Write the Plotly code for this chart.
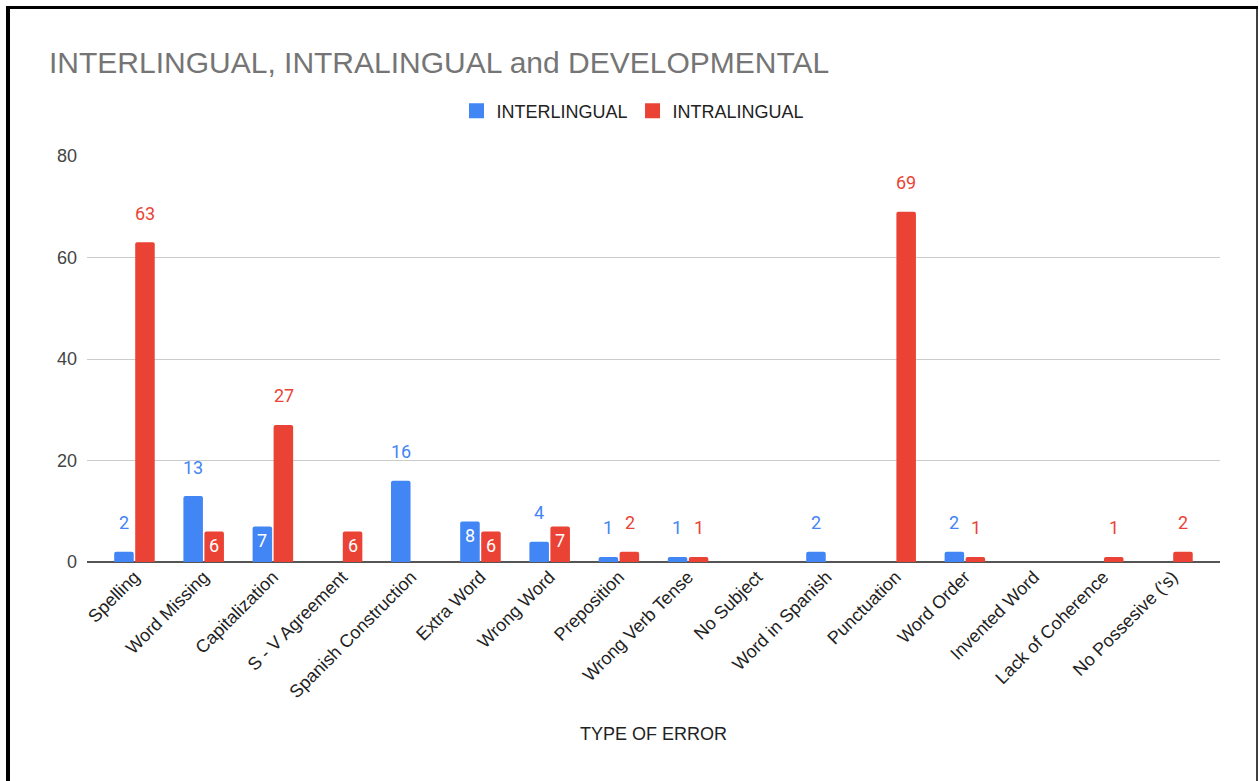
import plotly.graph_objects as go

categories = ["Spelling", "Word Missing", "Capitalization", "S - V Agreement",
              "Spanish Construction", "Extra Word", "Wrong Word", "Preposition",
              "Wrong Verb Tense", "No Subject", "Word in Spanish", "Punctuation",
              "Word Order", "Invented Word", "Lack of Coherence", "No Possesive ('s)"]
interlingual = [2, 13, 7, 0, 16, 8, 4, 1, 1, 0, 2, 0, 2, 0, 0, 0]
intralingual = [63, 6, 27, 6, 0, 6, 7, 2, 1, 0, 0, 69, 1, 0, 1, 2]
# labels drawn inside the bar (as in the original chart)
inter_inside = [False, False, True, False, False, True, False, False,
                False, False, False, False, False, False, False, False]
intra_inside = [False, True, False, True, False, True, True, False,
                False, False, False, False, False, False, False, False]

BLUE = "#4285F4"
RED = "#EA4335"
W, H = 1259, 781
L, R, T, B = 87, 1220, 156, 562
FONT = "Liberation Sans, Arial, sans-serif"

fig = go.Figure()
fig.add_trace(go.Bar(name="INTERLINGUAL", x=categories, y=interlingual,
                     marker=dict(color=BLUE, line=dict(width=0)), showlegend=False))
fig.add_trace(go.Bar(name="INTRALINGUAL", x=categories, y=intralingual,
                     marker=dict(color=RED, line=dict(width=0)), showlegend=False))
# legend entries with larger square swatches
for name, col in [("INTERLINGUAL", BLUE), ("INTRALINGUAL", RED)]:
    fig.add_trace(go.Scatter(name=name, x=[None], y=[None], mode="markers",
                             marker=dict(symbol="square", size=15, color=col),
                             showlegend=True))

annotations = []
for vals, inside, col, shift in [(interlingual, inter_inside, BLUE, -10.7),
                                 (intralingual, intra_inside, RED, 10.7)]:
    for c, v, ins in zip(categories, vals, inside):
        if not v:
            continue
        annotations.append(dict(
            x=c, y=v, xref="x", yref="y", text=str(v), showarrow=False,
            xshift=shift, yshift=(-14 if ins else 29), yanchor="middle",
            font=dict(family="Roboto", size=18, color=("white" if ins else col))))

# outer border frame
def px2paper_x(px):
    return (px - L) / (R - L)

def px2paper_y(py):
    return (B - py) / (B - T)

fig.add_shape(type="line", xref="paper", yref="paper",
              x0=px2paper_x(8), x1=px2paper_x(8), y0=px2paper_y(7), y1=px2paper_y(800),
              line=dict(color="black", width=4))
fig.add_shape(type="line", xref="paper", yref="paper",
              x0=px2paper_x(6), x1=px2paper_x(1258), y0=px2paper_y(7.5), y1=px2paper_y(7.5),
              line=dict(color="black", width=3))
fig.add_shape(type="line", xref="paper", yref="paper",
              x0=px2paper_x(1257), x1=px2paper_x(1257), y0=px2paper_y(6), y1=px2paper_y(800),
              line=dict(color="black", width=1.5))

fig.update_layout(
    width=W, height=H,
    margin=dict(l=L, r=W - R, t=T, b=H - B, pad=0),
    paper_bgcolor="white", plot_bgcolor="white",
    barmode="group", bargap=0.393, bargroupgap=0.07, barcornerradius=2,
    font=dict(family=FONT, size=17, color="#222222"),
    title=dict(text="INTERLINGUAL, INTRALINGUAL and DEVELOPMENTAL",
               x=49 / W, xref="container", xanchor="left",
               y=1 - 62 / H, yref="container", yanchor="middle",
               font=dict(family=FONT, size=30, color="#757575")),
    legend=dict(orientation="h", x=(633 - L) / (R - L), xanchor="center",
                y=(B - 111) / (B - T), yanchor="middle",
                font=dict(size=18, color="#222222"),
                traceorder="normal", itemwidth=30),
    showlegend=True,
    annotations=annotations,
    xaxis=dict(range=[-0.686, 15.687], tickangle=-45, showgrid=False,
               ticks="", showline=False, zeroline=False,
               tickfont=dict(size=18, color="#222222"),
               title=dict(text="TYPE OF ERROR", standoff=26,
                          font=dict(size=18, color="#222222"))),
    yaxis=dict(range=[0, 80], tickvals=[0, 20, 40, 60, 80], showgrid=True,
               gridcolor="#cccccc", gridwidth=1, zeroline=True,
               zerolinecolor="#555555", zerolinewidth=2, ticks="",
               ticklabelstandoff=9, tickfont=dict(size=18, color="#444444"),
               showline=False),
)

fig.write_html("out.html")
